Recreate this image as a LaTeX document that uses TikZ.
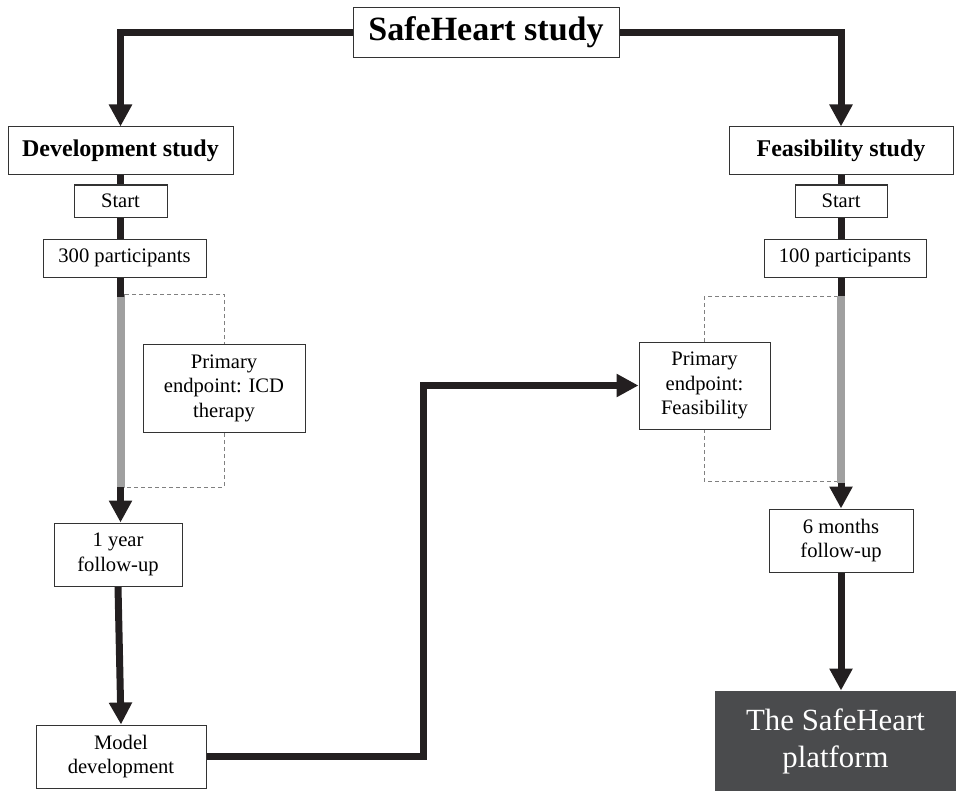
\documentclass[tikz,border=0pt]{standalone}
\usepackage{fontspec}
\setmainfont{Liberation Serif}
\usepackage{xcolor}
\usepackage{tikz}
\usetikzlibrary{arrows.meta,backgrounds}

\definecolor{flowblack}{HTML}{231F20}
\definecolor{periodgray}{HTML}{A0A0A0}
\definecolor{platformgray}{HTML}{4A4B4D}

\tikzset{
	box/.style={draw=black!80, line width=0.5pt, fill=white, align=center, inner sep=0pt, font=\fontsize{10.3}{12.2}\selectfont},
	head/.style={box, font=\bfseries\fontsize{12}{14}\selectfont},
	flow/.style={draw=flowblack, line width=3.5pt, -{Triangle[width=11pt,length=11pt]}},
	period/.style={draw=periodgray, line width=4pt},
	window/.style={draw=black!50, line width=0.5pt, dash pattern=on 2pt off 1.5pt}
}

\begin{document}
\begin{tikzpicture}[x=0.5pt, y=-0.5pt]
		\useasboundingbox (0,0) rectangle (956,791);
		\node[box, font=\bfseries\fontsize{17}{20}\selectfont, minimum width=133pt, minimum height=25pt] (title) at (486,32.5) {SafeHeart study};
		\node[head, minimum width=112.5pt, minimum height=24pt] (dev) at (120.5,151) {Development study};
		\node[head, minimum width=112pt, minimum height=24pt] (feas) at (841,151) {Feasibility study};
		\node[box, minimum width=46.5pt, minimum height=16pt] (startL) at (120.5,201) {Start};
		\node[box, minimum width=81.5pt, minimum height=19pt] (p300) at (124.5,258) {300 participants};
		\node[box, minimum width=46pt, minimum height=16pt] (startR) at (841,201) {Start};
		\node[box, minimum width=81pt, minimum height=19pt] (p100) at (845,258) {100 participants};
		\node[box, minimum width=81pt, minimum height=44pt] (icd) at (224,388) {Primary\\endpoint: ICD\\therapy};
		\node[box, minimum width=65.5pt, minimum height=43.5pt] (fep) at (704.5,385.5) {Primary\\endpoint:\\Feasibility};
		\node[box, minimum width=64pt, minimum height=31.5pt] (fu1) at (118,554.5) {1 year\\follow-up};
		\node[box, minimum width=72pt, minimum height=31.5pt] (fu6) at (841,540.5) {6 months\\follow-up};
		\node[box, minimum width=85pt, minimum height=31.5pt] (model) at (121,756.5) {Model\\development};
		\node[box, draw=none, fill=platformgray, text=white, font=\fontsize{15.4}{18.5}\selectfont, minimum width=120.5pt, minimum height=50pt] (platform) at (835.5,741) {The SafeHeart\\platform};
		\coordinate (gtopL) at (120.5,297);
		\coordinate (gbotL) at (120.5,487);
		\coordinate (gtopR) at (841,296);
		\coordinate (gbotR) at (841,483);
		\coordinate (bend) at (423,385.5);
		\begin{scope}[on background layer]
			\draw[window] (124,294) rectangle (224,487);
			\draw[window] (704,296) rectangle (838,481);
			\draw[flow] (title.west) -| (dev.north);
			\draw[flow] (title.east) -| (feas.north);
			\draw[flow] (dev.south) -- (dev.south |- fu1.north);
			\draw[flow] (feas.south) -- (feas.south |- fu6.north);
			\draw[period] (gtopL) -- (gbotL);
			\draw[period] (gtopR) -- (gbotR);
			\draw[flow] (fu1.south) -- (model.north);
			\draw[flow] (fu6.south) -- (platform.north -| fu6.south);
			\draw[flow] (model.east) -| (bend) -- (fep.west);
		\end{scope}
	\end{tikzpicture}
\end{document}
